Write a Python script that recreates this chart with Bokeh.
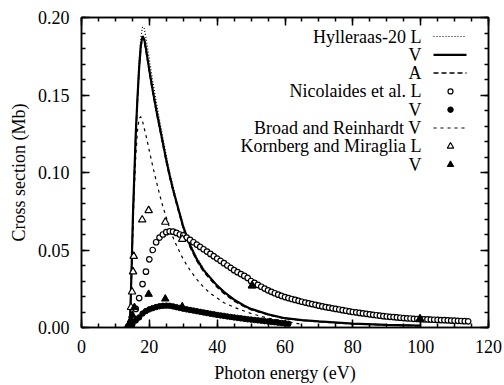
from bokeh.plotting import figure
from bokeh.models import Range1d, LinearAxis, Label, SingleIntervalTicker
from bokeh.embed import file_html
from bokeh.resources import INLINE

# ---------------- data ----------------
hyl_E = [14.0, 14.4, 14.8, 15.2, 15.6, 16.0, 16.5, 17.0, 17.5, 18.0, 18.5, 19.0, 20, 21, 22, 23, 24, 25, 26, 27,
         28, 29, 30, 32, 34, 36, 38, 40, 42, 45, 48, 50, 55, 60, 65, 70, 80, 90, 100]
hyl_L = [0.0, 0.01, 0.04, 0.075, 0.10, 0.126, 0.150, 0.172, 0.187, 0.194, 0.193, 0.187, 0.173, 0.159, 0.146,
         0.134, 0.122, 0.111, 0.100, 0.091, 0.082, 0.074, 0.066, 0.054, 0.045, 0.038, 0.032, 0.027, 0.023,
         0.018, 0.014, 0.012, 0.0085, 0.006, 0.0048, 0.0039, 0.0025, 0.0017, 0.0012]
hyl_V = [0.0, 0.01, 0.04, 0.075, 0.10, 0.125, 0.148, 0.168, 0.182, 0.188, 0.186, 0.180, 0.166, 0.153, 0.141,
         0.130, 0.119, 0.108, 0.098, 0.089, 0.081, 0.073, 0.065, 0.053, 0.044, 0.037, 0.032, 0.027, 0.023,
         0.018, 0.014, 0.012, 0.0085, 0.006, 0.0048, 0.0039, 0.0025, 0.0017, 0.0012]
hyl_A = [0.0, 0.01, 0.04, 0.074, 0.099, 0.124, 0.147, 0.167, 0.181, 0.187, 0.185, 0.179, 0.165, 0.152, 0.140,
         0.129, 0.118, 0.107, 0.097, 0.088, 0.080, 0.072, 0.064, 0.052, 0.043, 0.036, 0.031, 0.026, 0.022,
         0.017, 0.0135, 0.0115, 0.0082, 0.0058, 0.0046, 0.0037, 0.0024, 0.0016, 0.0011]

br_E = [14.0, 14.4, 14.8, 15.2, 15.6, 16.0, 16.5, 17.0, 17.5, 18, 19, 20, 21, 22, 23, 24, 25, 26, 27, 28,
        30, 32, 34, 36, 38, 40, 42, 45, 50, 55, 60, 65]
br_V = [0.0, 0.01, 0.035, 0.065, 0.09, 0.110, 0.127, 0.135, 0.136, 0.133, 0.124, 0.114, 0.104, 0.095, 0.086,
        0.078, 0.071, 0.064, 0.058, 0.053, 0.044, 0.037, 0.031, 0.026, 0.022, 0.019, 0.016, 0.013, 0.009,
        0.006, 0.004, 0.002]

nic_L_E = list(range(15, 115))
nic_L = [0.006, 0.012, 0.019, 0.028, 0.036, 0.044, 0.050, 0.055, 0.058, 0.060,
         0.0615, 0.062, 0.0618, 0.061, 0.060, 0.0595, 0.058, 0.0565, 0.055, 0.0535,
         0.052, 0.0505, 0.049, 0.0475, 0.046, 0.0445, 0.043, 0.0415, 0.040, 0.0385,
         0.037, 0.0357, 0.0345, 0.0333, 0.032, 0.030, 0.0288, 0.0275, 0.0263, 0.0251,
         0.024, 0.0230, 0.0221, 0.0212, 0.0204, 0.0196, 0.0190, 0.0184, 0.0178, 0.0172,
         0.0166, 0.0161, 0.0156, 0.0151, 0.0146, 0.0141, 0.0136, 0.0132, 0.0128, 0.0124,
         0.0120, 0.0116, 0.0112, 0.0108, 0.0104, 0.0100, 0.0097, 0.0094, 0.0091, 0.0088,
         0.0085, 0.0082, 0.0079, 0.0076, 0.0073, 0.0071, 0.0069, 0.0067, 0.0065, 0.0063,
         0.0061, 0.0059, 0.0058, 0.0056, 0.0055, 0.0054, 0.0053, 0.0052, 0.0051, 0.0050,
         0.0049, 0.0048, 0.0047, 0.0046, 0.0045, 0.0044, 0.0043, 0.0042, 0.0041, 0.0040]

nic_V_E = [13.6, 14.0, 14.4] + list(range(15, 62))
nic_V = [0.0005, 0.0008, 0.0012,
         0.002, 0.0045, 0.0065, 0.009, 0.0106, 0.0117, 0.0125, 0.0132, 0.0137, 0.014,
         0.0141, 0.014, 0.0136, 0.0131, 0.0126, 0.0121, 0.0117, 0.0113, 0.0109, 0.0105,
         0.0101, 0.0097, 0.0093, 0.0089, 0.0085, 0.0081, 0.0078, 0.0075, 0.0071, 0.0068,
         0.0065, 0.0062, 0.0059, 0.0056, 0.0053, 0.0051, 0.0048, 0.0046, 0.0044, 0.0041,
         0.0039, 0.0036, 0.0034, 0.0031, 0.0029, 0.0026, 0.0024]

km_L_E = [14.6, 14.9, 15.2, 15.4, 17.9, 19.8, 24.7, 29.7, 50.3, 99.8]
km_L = [0.013, 0.023, 0.036, 0.046, 0.0695, 0.0755, 0.068, 0.057, 0.027, 0.0056]
km_V_E = [13.8, 14.2, 14.6, 15.0, 15.6, 19.8, 24.7, 29.7, 50.3, 99.8]
km_V = [0.001, 0.003, 0.005, 0.008, 0.013, 0.0215, 0.0185, 0.0135, 0.027, 0.0056]

y_tick_labels = {0.0: "0.00", 0.05: "0.05", 0.1: "0.10", 0.15: "0.15", 0.2: "0.20"}

legend_texts = ["Hylleraas-20 L", "V", "A", "Nicolaides et al. L", "V",
                "Broad and Reinhardt V", "Kornberg and Miraglia L", "V"]

# ---------------- figure ----------------
FONT = "Liberation Serif"
FS = "18px"

p = figure(width=504, height=385, output_backend="svg", toolbar_location=None,
           x_range=Range1d(0, 120), y_range=Range1d(0, 0.2),
           min_border_left=81, min_border_right=16, min_border_top=17, min_border_bottom=58)
p.xgrid.visible = False
p.ygrid.visible = False
p.outline_line_color = "black"
p.outline_line_width = 1.5
p.background_fill_color = "white"
p.border_fill_color = "white"

def style_axis(ax, labels=True):
    ax.axis_line_color = "black"
    ax.axis_line_width = 1.5
    ax.major_tick_in = 8
    ax.major_tick_out = 0
    ax.minor_tick_in = 4
    ax.minor_tick_out = 0
    ax.major_tick_line_width = 1.5
    ax.minor_tick_line_width = 1.5
    ax.major_label_text_font = FONT
    ax.major_label_text_font_size = FS if labels else "1px"
    ax.major_label_text_color = "black" if labels else None
    ax.axis_label_text_font = FONT
    ax.axis_label_text_font_size = FS
    ax.axis_label_text_font_style = "normal"
    ax.axis_label_text_color = "black"

p.xaxis.ticker = SingleIntervalTicker(interval=20, num_minor_ticks=4)
p.yaxis.ticker = SingleIntervalTicker(interval=0.05, num_minor_ticks=5)
p.xaxis.axis_label = "Photon energy (eV)"
p.yaxis.axis_label = "Cross section (Mb)"
style_axis(p.xaxis[0])
style_axis(p.yaxis[0])
p.yaxis.major_label_overrides = y_tick_labels
p.xaxis.major_label_standoff = 12
p.yaxis.major_label_standoff = 12
p.xaxis.axis_label_standoff = 7
p.yaxis.axis_label_standoff = 6

top = LinearAxis(ticker=SingleIntervalTicker(interval=20, num_minor_ticks=4))
style_axis(top, labels=False)
top.major_label_standoff = 0
p.add_layout(top, "above")
right = LinearAxis(ticker=SingleIntervalTicker(interval=0.05, num_minor_ticks=5))
style_axis(right, labels=False)
right.major_label_standoff = 0
p.add_layout(right, "right")

# ---------------- series ----------------
styles = {
    "hylL": dict(line_color="black", line_width=1.2, line_dash="1 2"),
    "hylV": dict(line_color="black", line_width=2.2),
    "hylA": dict(line_color="black", line_width=1.5, line_dash="5 3"),
    "brV": dict(line_color="black", line_width=1.2, line_dash="3 4"),
}
p.line(br_E, br_V, **styles["brV"])
p.line(hyl_E, hyl_A, **styles["hylA"])
p.line(hyl_E, hyl_L, **styles["hylL"])
p.line(hyl_E, hyl_V, **styles["hylV"])

open_c = dict(marker="circle", size=5.5, fill_color="white", line_color="black", line_width=1.2)
fill_c = dict(marker="circle", size=5.5, fill_color="black", line_color="black", line_width=1)
open_t = dict(marker="triangle", size=7.5, fill_color="white", line_color="black", line_width=1.2)
fill_t = dict(marker="triangle", size=7.5, fill_color="black", line_color="black", line_width=1)

p.scatter(nic_L_E, nic_L, **open_c)
p.scatter(nic_V_E, nic_V, **fill_c)
p.scatter(km_L_E, km_L, **open_t)
p.scatter(km_V_E, km_V, **fill_t)

# ---------------- legend (layout in canvas pixels) ----------------
p.extra_x_ranges = {"px": Range1d(81, 488)}
p.extra_y_ranges = {"py": Range1d(327, 17)}
row_y = [36 + 18.3 * i for i in range(8)]
text_right = 421
key_x0, key_x1, key_xc = 433, 466, 450

for t, yy in zip(legend_texts, row_y):
    p.add_layout(Label(x=text_right, y=yy, x_range_name="px", y_range_name="py", text=t,
                       text_font=FONT, text_font_size=FS, text_align="right",
                       text_baseline="middle", text_color="black"))

p.line([key_x0, key_x1], [row_y[0]] * 2, x_range_name="px", y_range_name="py", **styles["hylL"])
p.line([key_x0, key_x1], [row_y[1]] * 2, x_range_name="px", y_range_name="py", **styles["hylV"])
p.line([key_x0, key_x1], [row_y[2]] * 2, x_range_name="px", y_range_name="py", **styles["hylA"])
p.scatter([key_xc], [row_y[3]], x_range_name="px", y_range_name="py", **dict(open_c, size=5))
p.scatter([key_xc], [row_y[4]], x_range_name="px", y_range_name="py", **dict(fill_c, size=5.5))
p.line([key_x0, key_x1], [row_y[5]] * 2, x_range_name="px", y_range_name="py", **styles["brV"])
p.scatter([key_xc], [row_y[6]], x_range_name="px", y_range_name="py", **dict(open_t, size=6.5))
p.scatter([key_xc], [row_y[7]], x_range_name="px", y_range_name="py", **dict(fill_t, size=6.5))

open("out.html", "w").write(file_html(p, INLINE))
